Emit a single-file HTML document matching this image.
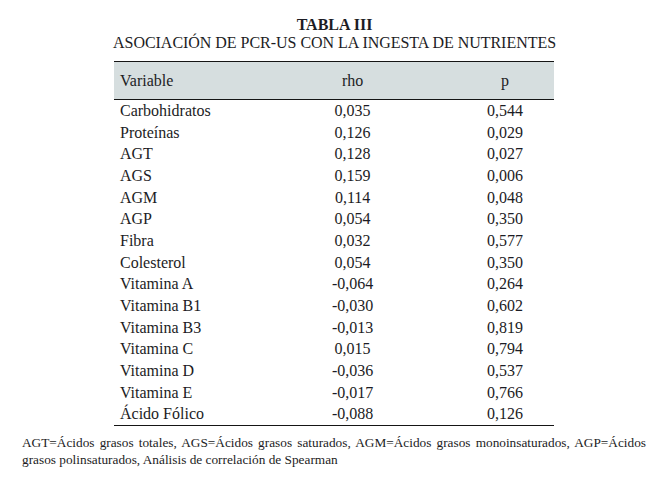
<!DOCTYPE html>
<html><head><meta charset="utf-8">
<style>
html,body{margin:0;padding:0;background:#fff;}
body{width:665px;height:484px;position:relative;overflow:hidden;font-family:"Liberation Serif",serif;color:#1c1c24;}
.t{position:absolute;white-space:nowrap;line-height:16px;font-size:16px;}
#t1{left:2px;width:665px;text-align:center;top:17px;font-weight:bold;}
#t2{left:113px;top:35px;letter-spacing:-0.03px;}
#hdr{position:absolute;left:114px;top:61px;width:440px;height:39px;background:#d6dedf;border-top:1px solid #151515;border-bottom:1px solid #151515;box-sizing:border-box;}
#bot{position:absolute;left:114px;top:425px;width:440px;height:1px;background:#151515;}
.r{position:absolute;font-size:16px;line-height:16px;white-space:nowrap;}
.cc{width:120px;text-align:center;}
#foot{position:absolute;left:22px;top:433.5px;width:624px;font-size:13.3px;line-height:17.2px;}
#foot div{white-space:nowrap;}
#f1{text-align:justify;text-align-last:justify;white-space:normal!important;}
</style></head><body>
<div class="t" id="t1">TABLA III</div>
<div class="t" id="t2">ASOCIACIÓN DE PCR-US CON LA INGESTA DE NUTRIENTES</div>
<div id="hdr"></div>
<div class="r" style="top:72.6px;left:120px">Variable</div>
<div class="r cc" style="top:72.6px;left:292.6px">rho</div>
<div class="r cc" style="top:72.6px;left:445px">p</div>
<div id="bot"></div>
<div class="r" style="top:103px;left:120px">Carbohidratos</div><div class="r cc" style="top:103px;left:292.6px">0,035</div><div class="r cc" style="top:103px;left:445px">0,544</div>
<div class="r" style="top:125px;left:120px">Proteínas</div><div class="r cc" style="top:125px;left:292.6px">0,126</div><div class="r cc" style="top:125px;left:445px">0,029</div>
<div class="r" style="top:146px;left:120px">AGT</div><div class="r cc" style="top:146px;left:292.6px">0,128</div><div class="r cc" style="top:146px;left:445px">0,027</div>
<div class="r" style="top:168px;left:120px">AGS</div><div class="r cc" style="top:168px;left:292.6px">0,159</div><div class="r cc" style="top:168px;left:445px">0,006</div>
<div class="r" style="top:190px;left:120px">AGM</div><div class="r cc" style="top:190px;left:292.6px">0,114</div><div class="r cc" style="top:190px;left:445px">0,048</div>
<div class="r" style="top:211px;left:120px">AGP</div><div class="r cc" style="top:211px;left:292.6px">0,054</div><div class="r cc" style="top:211px;left:445px">0,350</div>
<div class="r" style="top:233px;left:120px">Fibra</div><div class="r cc" style="top:233px;left:292.6px">0,032</div><div class="r cc" style="top:233px;left:445px">0,577</div>
<div class="r" style="top:255px;left:120px">Colesterol</div><div class="r cc" style="top:255px;left:292.6px">0,054</div><div class="r cc" style="top:255px;left:445px">0,350</div>
<div class="r" style="top:276px;left:120px">Vitamina A</div><div class="r cc" style="top:276px;left:292.6px">-0,064</div><div class="r cc" style="top:276px;left:445px">0,264</div>
<div class="r" style="top:298px;left:120px">Vitamina B1</div><div class="r cc" style="top:298px;left:292.6px">-0,030</div><div class="r cc" style="top:298px;left:445px">0,602</div>
<div class="r" style="top:320px;left:120px">Vitamina B3</div><div class="r cc" style="top:320px;left:292.6px">-0,013</div><div class="r cc" style="top:320px;left:445px">0,819</div>
<div class="r" style="top:341px;left:120px">Vitamina C</div><div class="r cc" style="top:341px;left:292.6px">0,015</div><div class="r cc" style="top:341px;left:445px">0,794</div>
<div class="r" style="top:363px;left:120px">Vitamina D</div><div class="r cc" style="top:363px;left:292.6px">-0,036</div><div class="r cc" style="top:363px;left:445px">0,537</div>
<div class="r" style="top:385px;left:120px">Vitamina E</div><div class="r cc" style="top:385px;left:292.6px">-0,017</div><div class="r cc" style="top:385px;left:445px">0,766</div>
<div class="r" style="top:406px;left:120px">Ácido Fólico</div><div class="r cc" style="top:406px;left:292.6px">-0,088</div><div class="r cc" style="top:406px;left:445px">0,126</div>
<div id="foot"><div id="f1">AGT=Ácidos grasos totales, AGS=Ácidos grasos saturados, AGM=Ácidos grasos monoinsaturados, AGP=Ácidos</div><div>grasos polinsaturados, Análisis de correlación de Spearman</div></div>
</body></html>
